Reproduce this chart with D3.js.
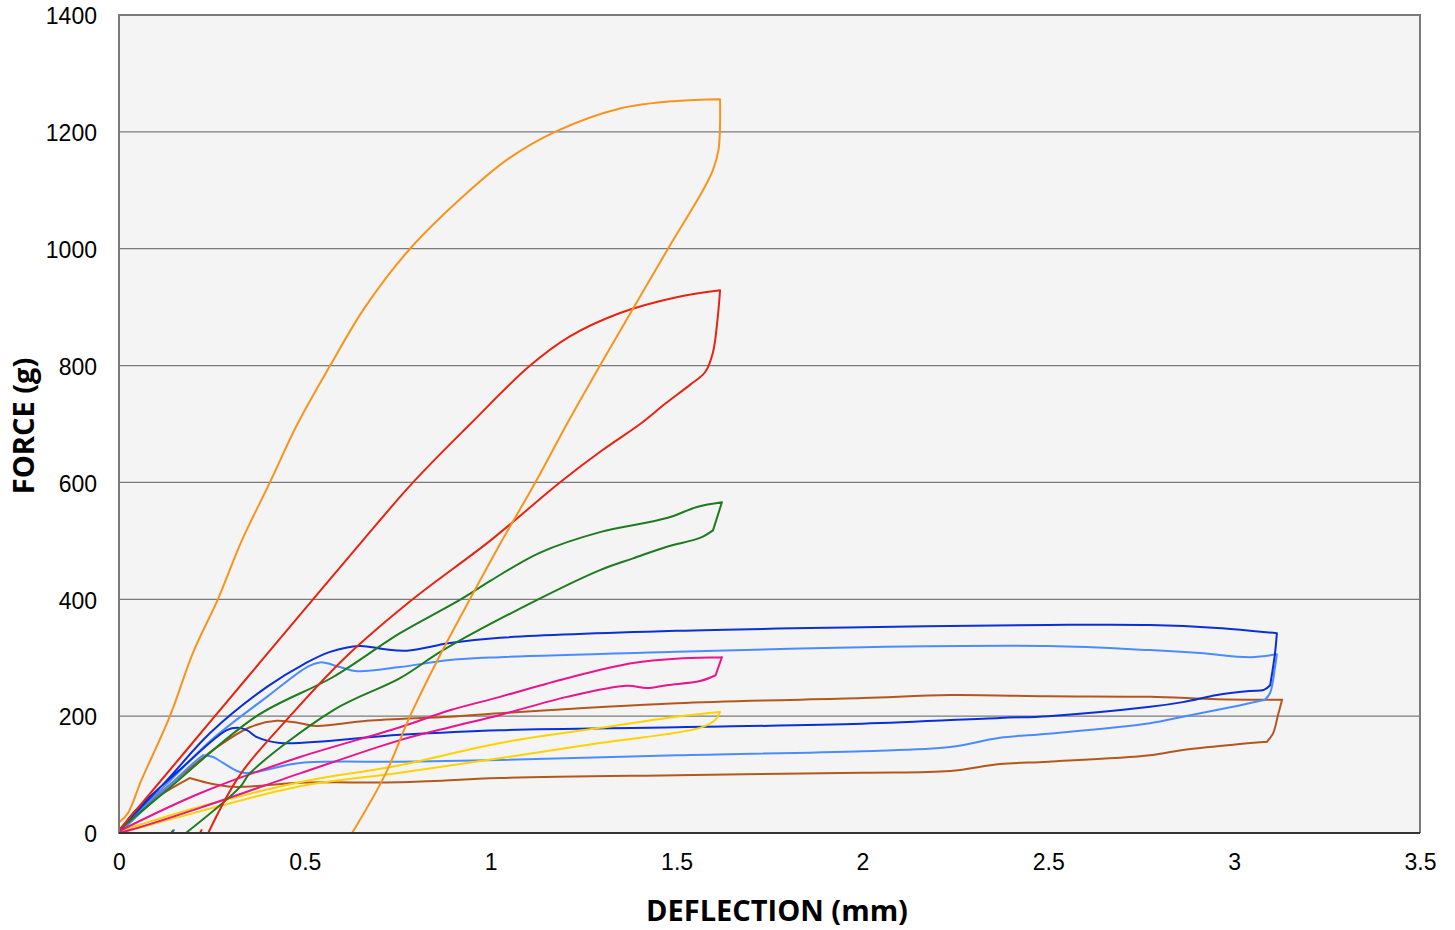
<!DOCTYPE html>
<html>
<head>
<meta charset="utf-8">
<script src="https://cdn.jsdelivr.net/npm/d3@7"></script>
<style>
  body { margin: 0; background: #fff; }
  text { font-family: "Liberation Sans", Arial, sans-serif; }
  .title { font-family: "Open Sans", "DejaVu Sans", sans-serif; font-weight: bold; }
</style>
</head>
<body>
<div id="chart"></div>
<script>
// force vs deflection loops, one array of [mm, g] per sample

var xTicks = [0, 0.5, 1, 1.5, 2, 2.5, 3, 3.5];
var yTicks = [0, 200, 400, 600, 800, 1000, 1200, 1400];

var brown = [[0,5],[0.13,79],[0.264,147],[0.352,181],[0.424,192],[0.487,188],[0.532,183],[0.667,192],[0.89,199],[1.025,205],[1.5,222],[2.0,231],[2.236,236],[2.5,234],[2.774,233],[2.954,229],[3.129,228],[3.118,202],[3.105,171],[3.088,156],[2.997,151],[2.862,142],[2.774,133],[2.5,122],[2.37,118],[2.236,106],[2.0,103],[1.5,99],[1.025,94],[0.756,87],[0.487,86],[0.307,79],[0.237,86],[0.19,94],[0.1,60],[0.038,27],[0,0]];

var lightBlue = [[0,3],[0.13,85],[0.25,160],[0.398,233],[0.506,284],[0.541,292],[0.595,284],[0.64,277],[0.756,284],[0.89,296],[1.025,301],[1.5,310],[2.0,318],[2.5,320],[2.774,313],[2.908,308],[3.043,301],[3.115,306],[3.11,284],[3.097,240],[3.083,228],[2.997,216],[2.862,199],[2.774,188],[2.5,170],[2.37,163],[2.236,147],[2.0,140],[1.5,133],[1.025,125],[0.756,122],[0.487,120],[0.334,103],[0.28,120],[0.253,130],[0.226,133],[0.2,120],[0.1,60],[0,0],[0.143,0],[0.148,5]];

var darkBlue = [[0,5],[0.13,91],[0.245,171],[0.398,250],[0.5,290],[0.568,310],[0.648,320],[0.71,315],[0.775,312],[0.89,325],[1.025,334],[1.5,346],[2.0,352],[2.5,356],[2.774,356],[2.954,351],[3.115,342],[3.11,308],[3.097,253],[3.08,245],[3.043,243],[2.954,236],[2.862,224],[2.774,216],[2.5,200],[2.37,197],[2.0,187],[1.5,181],[1.025,176],[0.756,168],[0.433,154],[0.371,164],[0.344,176],[0.32,180],[0.29,176],[0.172,113],[0.038,34],[0,0]];

var yellow = [[0,3],[0.218,45],[0.487,87],[0.756,116],[1.025,154],[1.294,180],[1.5,199],[1.617,207],[1.603,193],[1.563,180],[1.294,154],[1.025,128],[0.756,103],[0.487,80],[0.218,37],[0.02,3],[0,0]];

var pink = [[0,3],[0.218,68],[0.487,130],[0.756,181],[0.89,210],[1.025,233],[1.205,265],[1.383,291],[1.517,299],[1.622,301],[1.605,270],[1.563,260],[1.474,253],[1.42,248],[1.367,252],[1.205,233],[1.025,202],[0.89,181],[0.756,159],[0.487,102],[0.218,43],[0.03,5],[0,0]];

var green = [[0,5],[0.13,74],[0.37,200],[0.576,267],[0.756,342],[0.917,399],[1.0,432],[1.133,480],[1.294,515],[1.474,539],[1.555,558],[1.622,566],[1.598,518],[1.563,505],[1.474,490],[1.383,470],[1.294,450],[1.125,399],[0.872,313],[0.756,265],[0.576,210],[0.352,102],[0.326,79],[0.18,0],[0.14,0],[0.145,4],[0.14,0],[0,0]];

var red = [[0,5],[0.1,80],[0.258,200],[0.39,300],[0.522,400],[0.655,500],[0.791,600],[0.945,700],[1.106,800],[1.213,850],[1.348,890],[1.5,917],[1.617,929],[1.61,878],[1.598,823],[1.577,789],[1.536,767],[1.47,735],[1.402,700],[1.3,655],[1.186,600],[0.998,500],[0.79,400],[0.608,300],[0.46,200],[0.326,100],[0.24,0],[0.218,0],[0.222,5],[0.218,0],[0,0]];

var orange = [[0,18],[0.024,34],[0.06,90],[0.137,200],[0.2,310],[0.266,400],[0.33,500],[0.406,600],[0.48,700],[0.568,800],[0.662,900],[0.783,1000],[0.944,1100],[1.05,1155],[1.173,1200],[1.348,1240],[1.5,1253],[1.617,1256],[1.613,1170],[1.598,1135],[1.571,1100],[1.477,1000],[1.385,900],[1.294,800],[1.205,700],[1.12,600],[1.03,500],[0.944,400],[0.86,300],[0.783,200],[0.716,100],[0.627,0],[0,0]];

var series = [
  {data: brown, color: "#b5561f"},
  {data: lightBlue, color: "#4a8cff"},
  {data: darkBlue, color: "#0a2fd8"},
  {data: yellow, color: "#ffd200"},
  {data: pink, color: "#e8168c"},
  {data: green, color: "#1e7b1e"},
  {data: red, color: "#e8230f"},
  {data: orange, color: "#f7941d"}
];

var width = 1455, height = 930;
var plotL = 119, plotR = 1420, plotT = 15, plotB = 833;

var x = d3.scaleLinear().domain([0, 3.5]).range([plotL, plotR]);
var y = d3.scaleLinear().domain([0, 1400]).range([plotB, plotT]);

var svg = d3.select("#chart").append("svg")
  .attr("width", width)
  .attr("height", height);

svg.append("rect")
  .attr("x", plotL).attr("y", plotT)
  .attr("width", plotR - plotL).attr("height", plotB - plotT)
  .attr("fill", "#f4f4f4");

// gridlines
svg.append("g").selectAll("line")
  .data(yTicks.filter(function(d){ return d > 0 && d < 1400; }))
  .enter().append("line")
  .attr("x1", plotL).attr("x2", plotR)
  .attr("y1", function(d){ return y(d); })
  .attr("y2", function(d){ return y(d); })
  .attr("stroke", "#7a7a7a")
  .attr("stroke-width", 1.3);

var line = d3.line()
  .curve(d3.curveCatmullRom.alpha(0.5))
  .x(function(d){ return x(d[0]); })
  .y(function(d){ return y(d[1]); });

// split a trace at its sharp turns so the smoothing does not overshoot the corners
function smoothPath(pts){
  var parts = [], cur = [pts[0]];
  for (var i = 1; i < pts.length; i++) {
    cur.push(pts[i]);
    if (i < pts.length - 1) {
      var ax = x(pts[i][0]) - x(pts[i-1][0]), ay = y(pts[i][1]) - y(pts[i-1][1]);
      var bx = x(pts[i+1][0]) - x(pts[i][0]), by = y(pts[i+1][1]) - y(pts[i][1]);
      var cos = (ax*bx + ay*by) / (Math.hypot(ax, ay) * Math.hypot(bx, by) || 1);
      if (cos < 0.8) { parts.push(cur); cur = [pts[i]]; }
    }
  }
  parts.push(cur);
  return parts.map(function(p){ return line(p); }).join("");
}

svg.append("g").selectAll("path")
  .data(series)
  .enter().append("path")
  .attr("d", function(s){ return smoothPath(s.data); })
  .attr("fill", "none")
  .attr("stroke", function(s){ return s.color; })
  .attr("stroke-width", 2)
  .attr("stroke-linecap", "round")
  .attr("stroke-linejoin", "round");

// frame
svg.append("path")
  .attr("d", "M" + plotL + "," + plotB + "V" + plotT + "H" + plotR + "V" + plotB)
  .attr("fill", "none")
  .attr("stroke", "#7a7a7a")
  .attr("stroke-width", 2);
svg.append("line")
  .attr("x1", plotL).attr("x2", plotR)
  .attr("y1", plotB).attr("y2", plotB)
  .attr("stroke", "#333")
  .attr("stroke-width", 2);

// axes (labels only)
var xAxis = d3.axisBottom(x).tickValues(xTicks).tickSize(0).tickPadding(21).tickFormat(d3.format("~g"));
var gx = svg.append("g").attr("transform", "translate(0," + plotB + ")").call(xAxis);
gx.select(".domain").remove();
gx.selectAll("text").attr("font-size", 23).attr("fill", "#000")
  .style("font-family", "'Liberation Sans', Arial, sans-serif");

var yAxis = d3.axisLeft(y).tickValues(yTicks).tickSize(0).tickPadding(22).tickFormat(d3.format("d"));
var gy = svg.append("g").attr("transform", "translate(" + plotL + ",0)").call(yAxis);
gy.select(".domain").remove();
gy.selectAll("text").attr("font-size", 23).attr("fill", "#000")
  .attr("dy", "0.38em")
  .style("font-family", "'Liberation Sans', Arial, sans-serif");

svg.append("text")
  .attr("class", "title")
  .attr("x", 777).attr("y", 921)
  .attr("text-anchor", "middle")
  .attr("font-size", 29)
  .text("DEFLECTION (mm)");

svg.append("text")
  .attr("class", "title")
  .attr("transform", "translate(34,426) rotate(-90)")
  .attr("text-anchor", "middle")
  .attr("font-size", 29)
  .text("FORCE (g)");
</script>
</body>
</html>
